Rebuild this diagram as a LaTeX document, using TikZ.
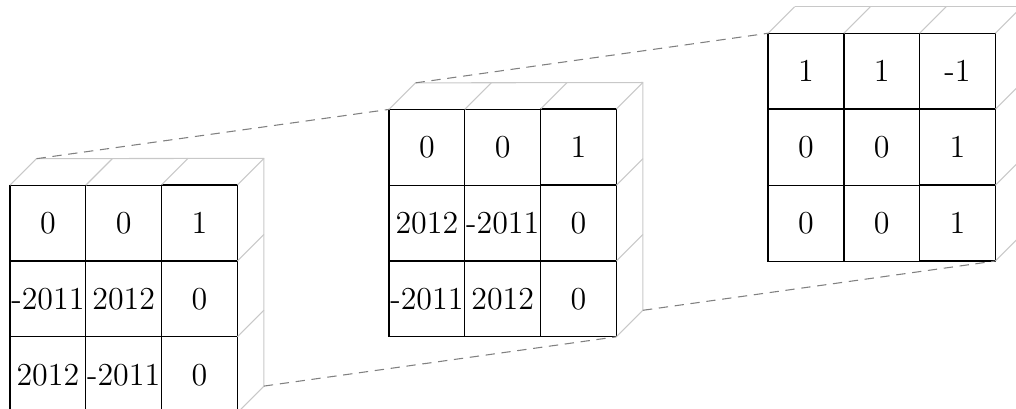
\documentclass[tikz,border=0pt]{standalone}
\usetikzlibrary{matrix,positioning,calc}
\definecolor{edgegray}{RGB}{200,200,200}
\definecolor{linkgray}{RGB}{128,128,128}

\begin{document}
\begin{tikzpicture}[
    cell/.style={rectangle, draw=black, line width=0.5pt, minimum size=1cm,
                 inner sep=0pt, outer sep=0pt, font=\large},
    grid/.style={matrix of nodes, nodes={cell}, inner sep=0pt, outer sep=0pt,
                 column sep=-0.5pt, row sep=-0.5pt, anchor=north west},
    depth/.style={draw=edgegray, line width=0.4pt},
    link/.style={draw=linkgray, line width=0.4pt, dash pattern=on 3.5pt off 2.5pt}]
  \clip (-0.123,-2.964) rectangle (13.28,2.43);
  \matrix[grid] (ma) at (0,0) {
    0 & 0 & 1 \\
    -2011 & 2012 & 0 \\
    2012 & -2011 & 0 \\
  };
  \matrix[grid] (mb) at (5,1) {
    0 & 0 & 1 \\
    2012 & -2011 & 0 \\
    -2011 & 2012 & 0 \\
  };
  \matrix[grid] (mc) at (10,2) {
    1 & 1 & -1 \\
    0 & 0 & 1 \\
    0 & 0 & 1 \\
  };
  % depth of each block
  \foreach \m in {ma,mb,mc}{
    \foreach \j in {1,2,3}
      \draw[depth] (\m-1-\j.north west) -- ++(0.35,0.35);
    \foreach \i in {1,2,3}
      \draw[depth] (\m-\i-3.north east) -- ++(0.35,0.35);
    \draw[depth] (\m-3-3.south east) -- ++(0.35,0.35);
    \coordinate (\m-bnw) at ($(\m-1-1.north west)+(0.35,0.35)$);
    \coordinate (\m-bne) at ($(\m-1-3.north east)+(0.35,0.35)$);
    \coordinate (\m-bse) at ($(\m-3-3.south east)+(0.35,0.35)$);
    \draw[depth] (\m-bnw) -- (\m-bne) -- (\m-bse);
  }
  % links between blocks
  \draw[link] (ma-bnw) -- (mb-1-1.north west);
  \draw[link] (mb-bnw) -- (mc-1-1.north west);
  \draw[link] (ma-bse) -- (mb-3-3.south east);
  \draw[link] (mb-bse) -- (mc-3-3.south east);
\end{tikzpicture}
\end{document}
